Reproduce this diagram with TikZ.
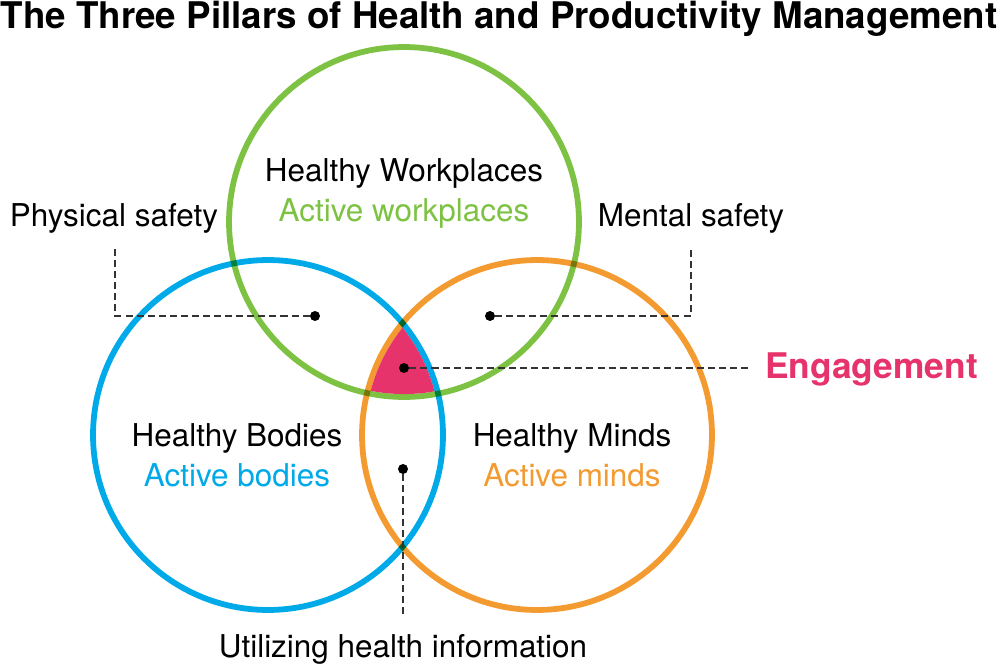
\documentclass[tikz,border=0pt]{standalone}
\usepackage{fontspec}
\setmainfont{TeX Gyre Heros}
\usetikzlibrary{positioning}

\definecolor{workgreen}{HTML}{7DC243}
\definecolor{bodyblue}{HTML}{00A9E8}
\definecolor{mindorange}{HTML}{F39B30}
\definecolor{engagered}{HTML}{E6336B}

\newcommand{\DrawPillar}[8]{
    \draw[pillar, draw=#4] (#2,#3) circle[radius=3.5cm];
    \node[txt] (#1-title) at (#5,#6) {#7};
    \node[txt, text=#4] (#1-sub) at (#5,#6+40) {#8};
}

\begin{document}
\begin{tikzpicture}[
  x=0.02cm, y=-0.02cm,
  pillar/.style={line width=3.3pt},
  txt/.style={anchor=base, inner sep=0pt, font=\fontsize{17.9}{20}\selectfont},
  spot/.style={circle, fill=black, minimum size=0.2cm, inner sep=0pt},
  leader/.style={draw=black!80, line width=0.8pt, dash pattern=on 4pt off 2.3pt}
  ]
  \useasboundingbox (0,0) rectangle (1000,665);

  % title
  \node[txt, font=\fontsize{20.9}{24}\selectfont\bfseries] (title) at (499,29)
    {The Three Pillars of Health and Productivity Management};

  % the three circles
  \begin{scope}[blend group=multiply]
    \DrawPillar{work}{404}{222}{workgreen}{404}{182}{Healthy Workplaces}{Active workplaces}
    \DrawPillar{body}{268}{435}{bodyblue}{237}{446}{Healthy Bodies}{Active bodies}
    \DrawPillar{mind}{537}{435}{mindorange}{572}{446}{Healthy Minds}{Active minds}
  \end{scope}

  % engagement area
  \begin{scope}
    \clip (404,222) circle[radius=3.5cm-1.65pt];
    \clip (268,435) circle[radius=3.5cm-1.65pt];
    \fill[engagered] (537,435) circle[radius=3.5cm-1.65pt];
  \end{scope}

  % outer labels
  \node[txt] (phys) at (114,227) {Physical safety};
  \node[txt] (ment) at (691,227) {Mental safety};
  \node[txt, anchor=base west, text=engagered,
        font=\fontsize{20.1}{24}\selectfont\bfseries] (engage) at (765,378) {Engagement};
  \node[txt] (info) at (403,657) {Utilizing health information};

  % dots
  \node[spot] (dotPhys) at (315,316) {};
  \node[spot] (dotMent) at (490,316) {};
  \node[spot] (dotEng) at (404,368) {};
  \node[spot] (dotInfo) at (403,469) {};

  \coordinate (physEnd) at (115,247);
  \coordinate (mentEnd) at (691,247);
  \coordinate (engEnd) at (752,368);
  \coordinate (infoEnd) at (403,618);

  % leaders
  \draw[leader] (dotPhys) -| (physEnd);
  \draw[leader] (dotMent) -| (mentEnd);
  \draw[leader] (dotEng) -- (engEnd);
  \draw[leader] (dotInfo) -- (infoEnd);
\end{tikzpicture}
\end{document}
